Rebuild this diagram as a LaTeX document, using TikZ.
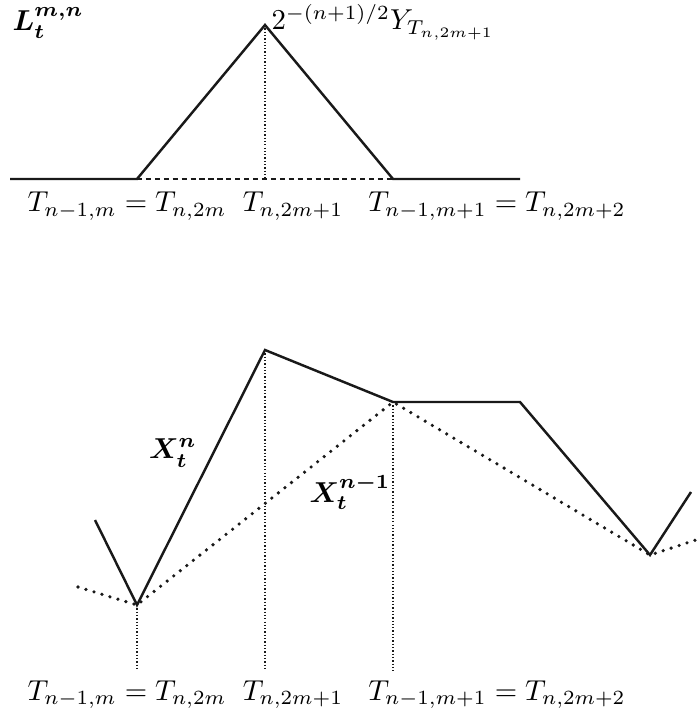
\documentclass[tikz,border=0pt]{standalone}
\usepackage{amsmath,amssymb}
\usepackage{xcolor}
\usepackage{tikz}
\usetikzlibrary{calc,positioning}
\definecolor{cLine}{RGB}{25,25,25}

\begin{document}
\begin{tikzpicture}[x=0.0122cm,y=-0.0122cm,
   pth/.style={cLine,line width=0.85pt,line join=miter},
   prev/.style={cLine,line width=1.25pt,line cap=round,dash pattern=on 0pt off 2.9pt},
   vdot/.style={cLine,line width=0.4pt,dash pattern=on 0.45pt off 0.7pt},
   dsh/.style={cLine,line width=0.45pt,dash pattern=on 1.8pt off 1.3pt},
   lbl/.style={inner sep=0pt,anchor=base}]
  \useasboundingbox (0,0) rectangle (699,716);
  % hat function L
  \coordinate (a0) at (10,179);  \coordinate (a1) at (137,179);
  \coordinate (a2) at (265,25);  \coordinate (a2b) at (265,179);
  \coordinate (a3) at (393,179); \coordinate (a4) at (520,179);
  \draw[dsh] (a1)--(a3);
  \draw[vdot] (a2)--(a2b);
  \draw[pth] (a0)--(a1)--(a2)--(a3)--(a4);
  \node[lbl,anchor=base west] (lL) at (12,31) {$\boldsymbol{L_t^{m,n}}$};
  \node[lbl,anchor=base west] (lY) at (271,30) {$2^{-(n+1)/2}Y_{T_{n,2m+1}}$};
  \node[lbl] (ta1) at (127,212) {$T_{n-1,m}=T_{n,2m}$};
  \node[lbl] (ta2) at (293,212) {$T_{n,2m+1}$};
  \node[lbl] (ta3) at (497,212) {$T_{n-1,m+1}=T_{n,2m+2}$};
  % paths X^n and X^{n-1}
  \coordinate (b0) at (95,520);  \coordinate (b1) at (137,605);
  \coordinate (b2) at (265,350); \coordinate (b3) at (393,402);
  \coordinate (b4) at (520,402); \coordinate (b5) at (650,555);
  \coordinate (b6) at (691,492);
  \coordinate (c0) at (78,587);  \coordinate (c1) at (699,539);
  \coordinate (d1) at (137,671); \coordinate (d2) at (265,671);
  \coordinate (d3) at (393,671);
  \draw[vdot] (b1)--(d1); \draw[vdot] (b2)--(d2); \draw[vdot] (b3)--(d3);
  \draw[prev] (c0)--(b1)--(b3)--(b5)--(c1);
  \draw[pth] (b0)--(b1)--(b2)--(b3)--(b4)--(b5)--(b6);
  \node[inner sep=0pt] (lXn) at (173,453) {$\boldsymbol{X_t^{n}}$};
  \node[inner sep=0pt] (lXp) at (350,492) {$\boldsymbol{X_t^{n-1}}$};
  \node[lbl] (tb1) at (127,700) {$T_{n-1,m}=T_{n,2m}$};
  \node[lbl] (tb2) at (293,700) {$T_{n,2m+1}$};
  \node[lbl] (tb3) at (497,700) {$T_{n-1,m+1}=T_{n,2m+2}$};
\end{tikzpicture}
\end{document}
